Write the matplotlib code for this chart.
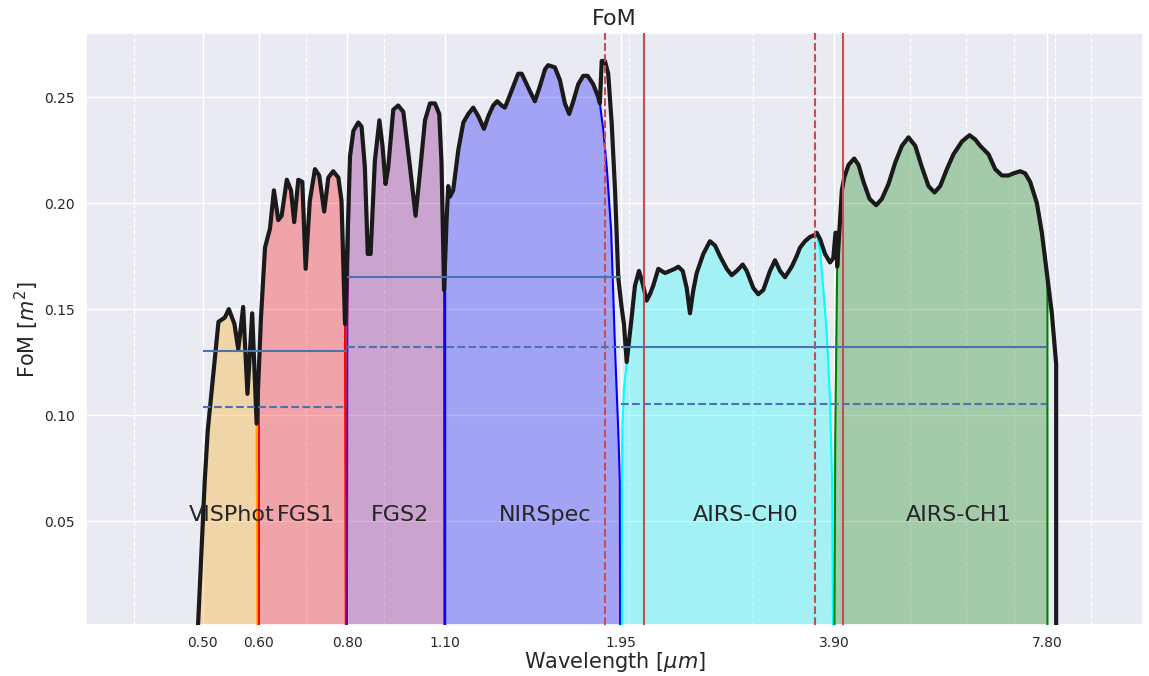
import numpy as np
import matplotlib
matplotlib.use("Agg")
import matplotlib.pyplot as plt
import seaborn as sns
from matplotlib.ticker import FixedLocator, LogLocator, NullFormatter

sns.set_theme(style="darkgrid")
plt.rcParams['font.family'] = ['DejaVu Sans']

# ---------------- data ----------------
# Total FoM curve (black)
black_wl = [0.492, 0.503, 0.508, 0.526, 0.537, 0.544, 0.554, 0.561, 0.570, 0.578, 0.587, 0.5955,
            0.604, 0.612, 0.622, 0.630, 0.639, 0.646, 0.657, 0.666, 0.673, 0.682, 0.691, 0.6985,
            0.708, 0.720, 0.730, 0.742, 0.752, 0.764, 0.777, 0.785, 0.794,
            0.807, 0.816, 0.829, 0.838, 0.847, 0.855, 0.863, 0.875, 0.888, 0.897, 0.906, 0.914,
            0.929, 0.944, 0.960, 0.981, 0.999, 1.013, 1.030, 1.047, 1.064, 1.079, 1.087, 1.096,
            1.105, 1.111, 1.117, 1.129, 1.148, 1.167, 1.186, 1.205, 1.225, 1.248, 1.266, 1.286,
            1.303, 1.322, 1.336, 1.351, 1.373, 1.395, 1.411, 1.434, 1.453, 1.473, 1.497, 1.522,
            1.538, 1.572, 1.598, 1.624, 1.647, 1.669, 1.696, 1.724, 1.749, 1.781, 1.810, 1.820,
            1.831, 1.850, 1.870, 1.891, 1.912, 1.932, 1.953, 1.968, 1.986,
            2.018, 2.040, 2.067, 2.092, 2.119, 2.142, 2.165, 2.201, 2.225, 2.249, 2.286, 2.324,
            2.349, 2.383, 2.414, 2.440, 2.467, 2.494, 2.548, 2.604, 2.647, 2.690, 2.750, 2.795,
            2.841, 2.897, 2.935, 2.998, 3.047, 3.098, 3.166, 3.218, 3.271, 3.324, 3.398, 3.453,
            3.491, 3.548, 3.606, 3.665, 3.686, 3.726, 3.787, 3.849, 3.890, 3.918, 3.930, 3.940,
            4.000, 4.031, 4.088, 4.164, 4.223, 4.292, 4.377, 4.473, 4.557, 4.656, 4.758, 4.864,
            4.969, 5.079, 5.190, 5.303, 5.408, 5.509, 5.630, 5.752, 5.912, 6.060, 6.173, 6.274,
            6.447, 6.589, 6.734, 6.880, 6.993, 7.147, 7.264, 7.383, 7.546, 7.670, 7.795, 7.923,
            8.035, 8.035]
black_fom = [0.000, 0.069, 0.093, 0.144, 0.146, 0.150, 0.143, 0.131, 0.151, 0.110, 0.148, 0.096,
             0.146, 0.179, 0.188, 0.206, 0.192, 0.194, 0.211, 0.206, 0.191, 0.211, 0.210, 0.169,
             0.201, 0.216, 0.213, 0.196, 0.212, 0.215, 0.212, 0.201, 0.143,
             0.222, 0.234, 0.238, 0.236, 0.217, 0.176, 0.176, 0.220, 0.239, 0.227, 0.209, 0.217,
             0.244, 0.246, 0.243, 0.217, 0.194, 0.214, 0.239, 0.247, 0.247, 0.242, 0.219, 0.159,
             0.192, 0.208, 0.203, 0.206, 0.225, 0.238, 0.242, 0.245, 0.241, 0.235, 0.241, 0.246,
             0.248, 0.246, 0.245, 0.249, 0.255, 0.261, 0.261, 0.256, 0.252, 0.248, 0.255, 0.263,
             0.265, 0.264, 0.258, 0.247, 0.242, 0.248, 0.256, 0.260, 0.260, 0.256, 0.250, 0.247,
             0.267, 0.267, 0.261, 0.238, 0.206, 0.165, 0.151, 0.143, 0.125,
             0.146, 0.161, 0.168, 0.162, 0.154, 0.157, 0.161, 0.169, 0.168, 0.167, 0.168, 0.169,
             0.170, 0.168, 0.160, 0.148, 0.159, 0.167, 0.176, 0.182, 0.180, 0.175, 0.169, 0.166,
             0.168, 0.171, 0.168, 0.160, 0.157, 0.159, 0.168, 0.173, 0.168, 0.165, 0.170, 0.175,
             0.179, 0.182, 0.184, 0.185, 0.186, 0.183, 0.176, 0.172, 0.174, 0.186, 0.186, 0.170,
             0.206, 0.212, 0.218, 0.221, 0.218, 0.210, 0.202, 0.199, 0.202, 0.209, 0.219, 0.227,
             0.231, 0.227, 0.217, 0.208, 0.205, 0.208, 0.216, 0.223, 0.229, 0.232, 0.230, 0.227,
             0.223, 0.216, 0.213, 0.213, 0.214, 0.215, 0.214, 0.210, 0.200, 0.186, 0.167, 0.148,
             0.124, 0.000]

# Instruments
instruments = ["VISPhot", "FGS1", "FGS2", "NIRSpec", "AIRS-CH0", "AIRS-CH1"]
band_lo = [0.50, 0.60, 0.80, 1.10, 1.95, 3.90]
band_hi = [0.60, 0.80, 1.10, 1.95, 3.90, 7.80]
colors = ["orange", "red", "purple", "blue", "cyan", "green"]
# range of the total curve that each instrument fill follows
follow_lo = [0.490, 0.601, 0.801, 1.101, 1.980, 3.950]
follow_hi = [0.596, 0.795, 1.097, 1.821, 3.690, 7.800]
# instrument curve edges where they leave the total curve
left_edge_wl = [[], [0.600, 0.600], [0.799, 0.800], [1.100, 1.100],
                [1.955, 1.955, 1.958, 1.968], [3.905, 3.915, 3.940]]
left_edge_fom = [[], [0.000, 0.120], [0.000, 0.143], [0.000, 0.160],
                 [0.000, 0.070, 0.095, 0.112], [0.000, 0.090, 0.170]]
right_edge_wl = [[0.597], [0.796], [1.097],
                 [1.841, 1.862, 1.888, 1.912, 1.932, 1.942, 1.944],
                 [3.726, 3.767, 3.808, 3.849, 3.875, 3.887], [7.810, 7.810]]
right_edge_fom = [[0.000], [0.000], [0.000],
                  [0.234, 0.216, 0.187, 0.131, 0.093, 0.069, 0.000],
                  [0.178, 0.159, 0.139, 0.107, 0.069, 0.000], [0.160, 0.000]]

# mean FoM levels (solid / dashed)
solid_lo = [0.50, 0.80, 1.95]
solid_hi = [0.80, 1.95, 7.80]
solid_val = [0.130, 0.165, 0.132]
dashed_lo = [0.50, 0.80, 1.95]
dashed_hi = [0.80, 1.95, 7.80]
dashed_val = [0.104, 0.132, 0.105]

vline_dashed = [1.85, 3.66]
vline_solid = [2.10, 4.02]

xtick_vals = [0.50, 0.60, 0.80, 1.10, 1.95, 3.90, 7.80]
ytick_vals = [0.05, 0.10, 0.15, 0.20, 0.25]

# ---------------- plot ----------------
fig = plt.figure(figsize=(11.49, 6.76), dpi=100)
ax = fig.add_axes([0.0748, 0.0754, 0.920, 0.8758])
ax.set_xscale('log')

bw = np.array(black_wl)
bf = np.array(black_fom)
for i, c in enumerate(colors):
    m = (bw >= follow_lo[i]) & (bw <= follow_hi[i])
    xw = np.concatenate([left_edge_wl[i], bw[m], right_edge_wl[i]])
    yf = np.concatenate([left_edge_fom[i], bf[m], right_edge_fom[i]])
    ax.fill_between(xw, 0, yf, color=c, alpha=0.3, lw=0, zorder=2)
    ax.plot(xw, yf, color=c, lw=1.5, zorder=3)

ax.plot(bw, bf, color='#1a1a1a', lw=3, zorder=4, solid_joinstyle='round')

for v in vline_dashed:
    ax.axvline(v, color='#C44E52', ls='--', lw=1.5, zorder=5)
for v in vline_solid:
    ax.axvline(v, color='#C44E52', ls='-', lw=1.5, zorder=5)

for lo, hi, v in zip(solid_lo, solid_hi, solid_val):
    ax.hlines(v, lo, hi, color='#4C72B0', lw=1.5, zorder=6)
for lo, hi, v in zip(dashed_lo, dashed_hi, dashed_val):
    ax.hlines(v, lo, hi, color='#4C72B0', lw=1.5, ls='--', zorder=6)

for name, lo, hi in zip(instruments, band_lo, band_hi):
    ax.text((lo + hi) / 2, 0.05, name, ha='center', va='baseline',
            fontsize=16, color='#262626', zorder=7)

ax.set_xlim(0.3417, 10.66)
ax.set_ylim(0.001, 0.2802)
ax.xaxis.set_major_locator(FixedLocator(xtick_vals))
ax.set_xticklabels(["%.2f" % v for v in xtick_vals])
ax.xaxis.set_minor_locator(LogLocator(base=10, subs=np.arange(2, 10)))
ax.xaxis.set_minor_formatter(NullFormatter())
ax.set_yticks(ytick_vals)
ax.set_yticklabels(["%.2f" % v for v in ytick_vals])
ax.tick_params(axis='both', which='major', labelsize=10, length=0, pad=8, labelcolor='#262626')
ax.tick_params(axis='x', which='minor', length=0)
ax.grid(True, which='major', color='white', lw=1.0)
ax.grid(True, which='minor', axis='x', color='white', lw=0.9, ls='--')

ax.set_xlabel(r"Wavelength [$\mu m$]", fontsize=15, color='#262626', labelpad=0)
ax.set_ylabel(r"FoM [$m^2$]", fontsize=15, color='#262626', labelpad=2)
ax.set_title("FoM", fontsize=16, color='#262626', pad=6)

fig.savefig("out.png", dpi=100)
